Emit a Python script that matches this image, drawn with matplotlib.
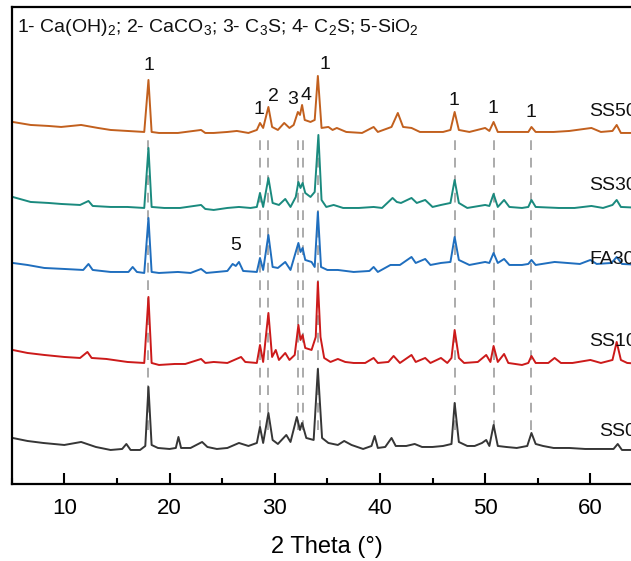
import matplotlib
matplotlib.use("Agg")
import matplotlib.pyplot as plt
from matplotlib.ticker import MultipleLocator

plt.rcParams['font.family'] = ['Liberation Sans', 'DejaVu Sans']
plt.rcParams['mathtext.default'] = 'regular'

# XRD patterns (2 theta in degrees, intensity in a.u.)
ss0_theta = [5.1, 6.5, 8.0, 10.0, 11.6, 13.0, 14.4, 15.5, 15.9, 16.3, 17.2, 17.7, 18.0, 18.3,
             18.9, 20.0, 20.6, 20.85, 21.1, 22.0, 23.1, 23.6, 24.5, 25.5, 26.6, 27.5, 28.3,
             28.6, 28.9, 29.4, 29.8, 30.3, 31.1, 31.5, 32.1, 32.4, 32.6, 33.0, 33.7, 34.1,
             34.5, 35.1, 36.0, 36.6, 37.3, 38.4, 39.2, 39.5, 39.8, 40.5, 41.1, 41.5, 42.5,
             43.3, 44.0, 45.0, 46.0, 46.8, 47.1, 47.5, 48.3, 49.0, 49.7, 50.1, 50.4, 50.8,
             51.2, 52.0, 53.0, 54.0, 54.4, 54.8, 55.5, 56.5, 58.0, 59.5, 60.5, 62.2, 62.6,
             63.0, 64.0, 65.0]
ss0_int = [16, 13, 11, 9, 12, 7, 4, 5, 10, 4, 4, 8, 67, 9,
           6, 5, 6, 17, 6, 6, 12, 7, 5, 6, 11, 8, 11,
           27, 11, 41, 14, 10, 19, 12, 37, 24, 31, 16, 14, 85,
           16, 11, 9, 13, 9, 5, 8, 18, 6, 7, 16, 8, 8,
           10, 7, 7, 8, 10, 51, 12, 8, 8, 11, 14, 8, 29,
           8, 7, 6, 8, 21, 10, 8, 6, 6, 5, 5, 5, 10,
           4, 4, 4]

ss10_theta = [5.1, 6.5, 8.1, 10.0, 11.5, 12.2, 12.6, 14.0, 16.0, 17.6, 18.0, 18.3, 19.0, 20.5,
              21.5, 23.0, 23.4, 24.2, 25.5, 26.8, 27.2, 28.3, 28.6, 28.9, 29.4, 29.75, 30.1,
              30.4, 31.0, 31.4, 31.9, 32.25, 32.45, 32.65, 32.9, 33.5, 33.9, 34.1, 34.35,
              34.7, 35.3, 36.0, 36.7, 37.5, 38.6, 39.4, 39.8, 40.8, 41.3, 41.9, 43.0, 43.4,
              44.3, 44.8, 45.8, 46.4, 46.8, 47.1, 47.5, 48.0, 49.3, 50.1, 50.5, 50.8, 51.2,
              51.8, 52.2, 53.5, 54.1, 54.4, 54.8, 56.0, 56.6, 57.2, 58.3, 60.0, 61.0, 62.1,
              62.5, 62.9, 63.5, 65.0]
ss10_int = [20, 17, 15, 13, 12, 18, 12, 11, 8, 7, 73, 7, 5, 6,
            6, 11, 7, 8, 7, 13, 8, 7, 25, 8, 57, 13, 20,
            10, 17, 10, 15, 45, 30, 35, 22, 20, 33, 88, 33,
            12, 8, 11, 8, 7, 7, 12, 7, 8, 14, 7, 15, 8,
            12, 7, 12, 7, 12, 40, 12, 7, 8, 15, 8, 24, 8,
            16, 7, 5, 7, 14, 7, 7, 12, 7, 7, 10, 7, 10,
            28, 10, 7, 6]

fa30_theta = [5.1, 6.5, 8.1, 10.0, 11.8, 12.3, 12.7, 14.4, 16.1, 16.5, 16.9, 17.6, 18.0, 18.3,
              19.0, 20.8, 22.0, 23.0, 23.5, 24.5, 25.5, 26.0, 26.3, 26.6, 27.0, 28.3, 28.6,
              28.9, 29.4, 29.8, 30.3, 31.0, 31.5, 32.25, 32.45, 32.65, 32.9, 33.5, 33.8,
              34.1, 34.4, 35.0, 36.0, 37.5, 39.0, 39.4, 39.8, 41.0, 41.9, 43.0, 43.4, 44.3,
              44.8, 45.8, 46.7, 47.1, 47.5, 48.5, 50.0, 50.4, 50.8, 51.2, 51.8, 52.3, 53.5,
              54.1, 54.4, 54.8, 56.6, 57.8, 59.0, 60.0, 60.6, 62.0, 62.5, 63.0, 65.0]
fa30_int = [13, 11, 8, 7, 6, 12, 6, 4, 4, 9, 4, 3, 58, 4,
            3, 4, 3, 7, 3, 4, 5, 12, 10, 14, 5, 4, 18,
            6, 41, 9, 8, 14, 6, 33, 24, 28, 16, 14, 9,
            64, 9, 6, 6, 4, 5, 9, 4, 11, 11, 19, 13, 17,
            11, 13, 14, 39, 16, 11, 14, 13, 23, 13, 17, 11, 11,
            12, 16, 11, 14, 13, 12, 16, 12, 13, 19, 12, 11]

ss30_theta = [5.1, 6.8, 8.5, 9.7, 11.5, 12.3, 12.7, 14.4, 16.0, 17.6, 18.0, 18.3, 19.5, 21.0,
              23.0, 23.4, 24.2, 25.5, 26.6, 27.7, 28.3, 28.6, 28.9, 29.4, 29.8, 30.4, 31.0,
              31.5, 32.0, 32.25, 32.45, 32.65, 32.9, 33.4, 33.8, 34.15, 34.45, 34.9, 35.6,
              36.5, 38.0, 39.4, 40.2, 41.2, 41.6, 42.0, 43.0, 43.5, 44.3, 45.0, 45.8, 46.7,
              47.1, 47.5, 48.3, 50.0, 50.4, 50.8, 51.2, 51.8, 52.3, 53.5, 54.1, 54.4, 54.8,
              57.0, 58.5, 60.1, 61.2, 62.1, 62.5, 62.9, 65.0]
ss30_int = [15, 10, 9, 8, 7, 11, 6, 5, 5, 4, 64, 5, 4, 4,
            7, 3, 2, 4, 5, 4, 5, 19, 5, 34, 9, 7, 13,
            5, 15, 30, 24, 29, 19, 15, 20, 77, 12, 5, 7,
            4, 4, 5, 4, 14, 10, 9, 14, 9, 12, 5, 7, 9,
            32, 9, 4, 7, 6, 18, 5, 12, 5, 4, 5, 12, 5,
            4, 4, 6, 4, 7, 12, 5, 4]

ss50_theta = [5.1, 6.8, 8.5, 9.7, 11.6, 13.2, 14.4, 16.0, 17.6, 18.0, 18.3, 19.0, 20.8, 23.0,
              23.4, 24.2, 25.5, 26.4, 27.5, 28.3, 28.6, 28.9, 29.4, 29.75, 30.3, 30.9, 31.4,
              31.8, 32.2, 32.4, 32.6, 32.85, 33.4, 33.8, 34.1, 34.45, 35.1, 35.5, 35.9, 36.8,
              38.3, 39.4, 39.8, 41.1, 41.7, 42.2, 43.0, 43.8, 45.0, 46.0, 46.7, 47.1, 47.5,
              48.5, 50.0, 50.4, 50.8, 51.2, 52.5, 54.1, 54.4, 54.8, 56.5, 58.0, 60.1, 61.0,
              62.1, 62.5, 62.9, 65.0]
ss50_int = [15, 12, 11, 10, 12, 9, 7, 6, 5, 57, 5, 4, 4, 7,
            4, 4, 5, 6, 4, 7, 14, 9, 30, 10, 7, 14, 9,
            12, 25, 22, 32, 17, 15, 17, 61, 9, 10, 7, 9, 5,
            4, 10, 5, 10, 24, 10, 9, 5, 5, 5, 7, 25, 7,
            5, 9, 6, 15, 5, 5, 5, 10, 5, 5, 6, 9, 5,
            6, 12, 4, 4]

samples = ['SS0', 'SS10', 'FA30', 'SS30', 'SS50']
thetas = [ss0_theta, ss10_theta, fa30_theta, ss30_theta, ss50_theta]
intensities = [ss0_int, ss10_int, fa30_int, ss30_int, ss50_int]
offsets = [30, 114, 208, 272, 347]
colors = ['#363636', '#CC1A1A', '#1F6EBE', '#1A8A7E', '#C2601E']
label_pos = [(60.8, 52), (59.9, 142), (59.9, 224), (59.9, 298), (59.9, 372)]

# reference peak positions (dashed guides) and their phase numbers
guide_theta = [18.0, 28.6, 29.4, 32.25, 32.65, 34.15, 47.1, 50.8, 54.4]
peak_text = ['1', '1', '2', '3', '4', '1', '1', '1', '1', '5']
peak_text_pos = [(18.0, 418), (28.5, 374), (29.9, 387), (31.7, 384), (33.0, 388),
                 (34.75, 419), (47.05, 383), (50.75, 375), (54.35, 371), (26.3, 238)]

fig = plt.figure(figsize=(6.31, 5.61), dpi=100)
ax = fig.add_axes([0.0185, 0.1373, 1.0005, 0.8503])

ax.vlines(guide_theta, 54, 349, colors='#ABABAB', linestyles=(0, (5, 4)), lw=1.4, zorder=1)

for th, inten, off, col in zip(thetas, intensities, offsets, colors):
    ax.plot(th, [v + off for v in inten], color=col, lw=1.4, zorder=2)

for name, (x, y) in zip(samples, label_pos):
    ax.text(x, y, name, fontsize=14, ha='left', va='center', color='#111111')

for t, (x, y) in zip(peak_text, peak_text_pos):
    ax.text(x, y, t, fontsize=14, ha='center', va='center', color='#111111')

fig.text(17 / 631, 1 - 27 / 561,
         r'1- Ca(OH)$_2$; 2- CaCO$_3$; 3- C$_3$S; 4- C$_2$S; 5-SiO$_2$',
         fontsize=14, ha='left', va='center', color='#111111')

ax.set_xlim(5, 65)
ax.set_ylim(0, 477)
ax.set_yticks([])
ax.xaxis.set_major_locator(MultipleLocator(10))
ax.xaxis.set_minor_locator(MultipleLocator(5))
ax.tick_params(axis='x', which='major', direction='in', length=8, width=1.5, pad=10, labelsize=16)
ax.tick_params(axis='x', which='minor', direction='in', length=4, width=1.5)
ax.set_xticks([10, 20, 30, 40, 50, 60])
for s in ax.spines.values():
    s.set_linewidth(1.6)
ax.set_xlabel('2 Theta (°)', fontsize=17, labelpad=12)

fig.savefig('out.png', dpi=100)
